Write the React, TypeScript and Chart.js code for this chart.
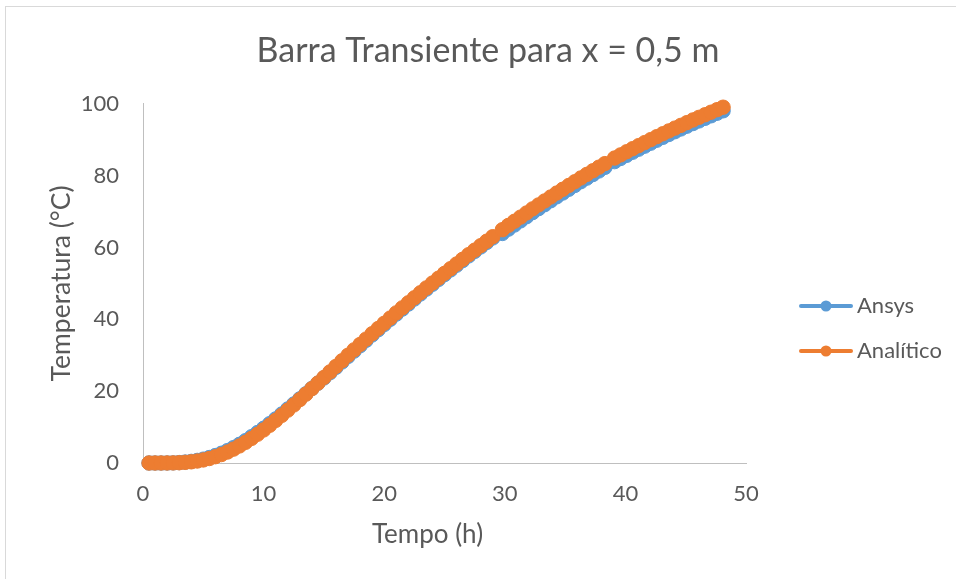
import React, { useEffect, useRef } from "react";
import { Chart, registerables } from "chart.js";

Chart.register(...registerables);

// ---- data ----
const tempo = [
  0.5, 1, 1.5, 2, 2.5, 3, 3.5, 4, 4.5, 5, 5.5, 6, 6.5, 7, 7.5, 8, 8.5, 9, 9.5, 10,
  10.5, 11, 11.5, 12, 12.5, 13, 13.5, 14, 14.5, 15, 15.5, 16, 16.5, 17, 17.5, 18, 18.5, 19, 19.5, 20,
  20.5, 21, 21.5, 22, 22.5, 23, 23.5, 24, 24.5, 25, 25.5, 26, 26.5, 27, 27.5, 28, 28.5, 29,
  29.8, 30.3, 30.8, 31.3, 31.8, 32.3, 32.8, 33.3, 33.8, 34.3, 34.8, 35.3, 35.8, 36.3, 36.8, 37.3, 37.8, 38.3,
  39.1, 39.6, 40.1, 40.6, 41.1, 41.6, 42.1, 42.6, 43.1, 43.6, 44.1, 44.6, 45.1, 45.6, 46.1, 46.6, 47.1, 47.6, 48.1,
];

const ansys = [
  0, 0, 0, 0.01, 0.04, 0.12, 0.26, 0.45, 0.72, 1.07, 1.52, 2.07, 2.71, 3.45, 4.28, 5.2, 6.22, 7.33, 8.48, 9.67,
  10.95, 12.27, 13.63, 15.03, 16.42, 17.85, 19.27, 20.74, 22.2, 23.66, 25.13, 26.62, 28.13, 29.65, 31.15, 32.65, 34.15, 35.65, 37.1, 38.55,
  40.0, 41.45, 42.85, 44.25, 45.65, 47.05, 48.4, 49.75, 51.1, 52.45, 53.75, 55.05, 56.35, 57.65, 58.9, 60.15, 61.4, 62.65,
  63.9, 65.1, 66.25, 67.4, 68.55, 69.7, 70.8, 71.9, 73.0, 74.1, 75.15, 76.2, 77.25, 78.3, 79.3, 80.3, 81.3, 82.3,
  83.9, 84.78, 85.65, 86.51, 87.36, 88.2, 89.03, 89.85, 90.66, 91.45, 92.23, 93.0, 93.76, 94.5, 95.23, 95.95, 96.66, 97.36, 98.05,
];

const analitico = [
  0, 0, 0, 0.01, 0.03, 0.08, 0.18, 0.33, 0.55, 0.85, 1.25, 1.75, 2.35, 3.05, 3.85, 4.75, 5.75, 6.85, 8.0, 9.2,
  10.5, 11.85, 13.25, 14.7, 16.15, 17.65, 19.15, 20.7, 22.25, 23.8, 25.35, 26.9, 28.45, 30.0, 31.5, 33.0, 34.5, 36.0, 37.45, 38.9,
  40.35, 41.8, 43.2, 44.6, 46.0, 47.4, 48.75, 50.1, 51.45, 52.8, 54.1, 55.4, 56.7, 58.0, 59.25, 60.5, 61.75, 63.0,
  64.95, 66.15, 67.3, 68.45, 69.6, 70.75, 71.85, 72.95, 74.05, 75.15, 76.2, 77.25, 78.3, 79.35, 80.35, 81.35, 82.35, 83.35,
  84.9, 85.78, 86.65, 87.51, 88.36, 89.2, 90.03, 90.85, 91.66, 92.45, 93.23, 94.0, 94.76, 95.5, 96.23, 96.95, 97.66, 98.36, 99.05,
];

const xTicks = [0, 10, 20, 30, 40, 50];
const yTicks = [0, 20, 40, 60, 80, 100];
const titulo = "Barra Transiente para x = 0,5 m";
const xTitulo = "Tempo (h)";
const yTitulo = "Temperatura (°C)";
const serieNomes = ["Ansys", "Analítico"];
const cores = ["#5B9BD5", "#ED7D31"];

const FONT = "Lato, 'Open Sans', sans-serif";
const TEXT = "#595959";
const AXIS = "#BFBFBF";

export default function App() {
  const ref = useRef<HTMLCanvasElement>(null);

  useEffect(() => {
    document.body.style.margin = "0";
    const canvas = ref.current;
    if (!canvas) return;

    const frame = {
      id: "frame",
      beforeDraw(chart: any) {
        const c = chart.ctx;
        c.save();
        c.fillStyle = "#ffffff";
        c.fillRect(0, 0, chart.width, chart.height);
        c.strokeStyle = "#D9D9D9";
        c.lineWidth = 1;
        c.strokeRect(5.5, 6.5, chart.width + 20, chart.height + 20);
        c.restore();
      },
    };

    const extras = {
      id: "extras",
      afterDraw(chart: any) {
        const c = chart.ctx;
        const area = chart.chartArea;
        c.save();
        // x axis title
        c.fillStyle = TEXT;
        c.font = `26px ${FONT}`;
        c.textAlign = "center";
        c.textBaseline = "middle";
        c.fillText(xTitulo, area.left + (area.right - area.left) / 2 - 17, 535);
        // legend (line + marker, Excel style)
        [0, 1].forEach((k, i) => {
          const y = 306 + i * 45;
          c.strokeStyle = cores[k];
          c.lineWidth = 4;
          c.lineCap = "round";
          c.beginPath();
          c.moveTo(area.right + 55, y);
          c.lineTo(area.right + 105, y);
          c.stroke();
          c.fillStyle = cores[k];
          c.beginPath();
          c.arc(area.right + 80, y, 5.5, 0, Math.PI * 2);
          c.fill();
          c.fillStyle = TEXT;
          c.font = `22px ${FONT}`;
          c.textAlign = "left";
          c.textBaseline = "middle";
          c.fillText(serieNomes[k], area.right + 111, y);
        });
        c.restore();
      },
    };

    const mk = (k: number, values: number[], order: number) => ({
      label: serieNomes[k],
      data: tempo.map((t, i) => ({ x: t, y: values[i] })),
      showLine: true,
      borderColor: cores[k],
      backgroundColor: cores[k],
      borderWidth: 4,
      pointRadius: 7.2,
      pointBorderWidth: 1,
      pointBackgroundColor: cores[k],
      pointBorderColor: cores[k],
      clip: false,
      order,
    });

    const chart = new Chart(canvas, {
      type: "scatter",
      data: {
        datasets: [mk(1, analitico, 0), mk(0, ansys, 1)],
      },
      options: {
        animation: false,
        responsive: false,
        devicePixelRatio: 1,
        layout: { padding: { left: 20, right: 0, top: 0, bottom: 0 } },
        plugins: {
          legend: { display: false },
          tooltip: { enabled: false },
          title: {
            display: true,
            text: titulo,
            color: TEXT,
            font: { family: FONT, size: 34, weight: "normal" },
            padding: { top: 31, bottom: 32 },
          },
        },
        scales: {
          x: {
            type: "linear",
            min: 0,
            max: 50,
            afterBuildTicks: (s: any) => {
              s.ticks = xTicks.map((v) => ({ value: v }));
            },
            afterFit: (s: any) => {
              s.height = 116;
            },
            grid: { display: false, drawTicks: false },
            border: { display: true, color: AXIS, width: 1 },
            ticks: {
              color: TEXT,
              font: { family: FONT, size: 22 },
              padding: 18,
              maxRotation: 0,
            },
          },
          y: {
            type: "linear",
            min: 0,
            max: 100,
            afterBuildTicks: (s: any) => {
              s.ticks = yTicks.map((v) => ({ value: v }));
            },
            afterFit: (s: any) => {
              s.width = 123;
            },
            grid: { display: false, drawTicks: false },
            border: { display: true, color: AXIS, width: 1 },
            ticks: {
              color: TEXT,
              font: { family: FONT, size: 22 },
              padding: 24,
            },
            title: {
              display: true,
              text: yTitulo,
              color: TEXT,
              font: { family: FONT, size: 26.5 },
              padding: { top: 26, bottom: 0 },
            },
          },
          legendSpace: {
            type: "linear",
            position: "right",
            display: true,
            grid: { display: false, drawTicks: false },
            border: { display: false },
            ticks: { display: false },
            afterFit: (s: any) => {
              s.width = 210;
            },
          },
        },
      },
      plugins: [frame, extras],
    } as any);

    return () => chart.destroy();
  }, []);

  return (
    <div style={{ width: 956, height: 579 }}>
      <canvas ref={ref} width={956} height={579} style={{ display: "block", width: 956, height: 579 }} />
    </div>
  );
}
